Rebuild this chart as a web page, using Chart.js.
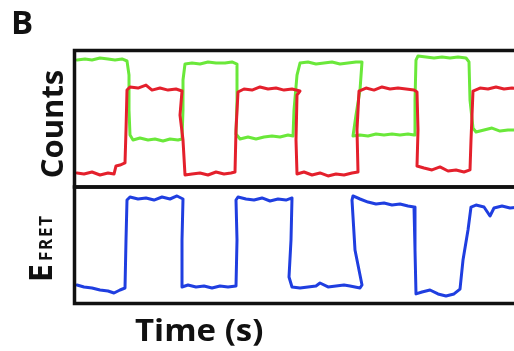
<!DOCTYPE html>
<html>
<head>
<meta charset="utf-8">
<script src="https://cdn.jsdelivr.net/npm/chart.js@4"></script>
<style>
    html, body { margin: 0; padding: 0; background: #fff; }
    body { width: 514px; height: 351px; overflow: hidden; position: relative; font-family: "Open Sans", sans-serif; font-weight: 700; color: #111; }
    canvas { position: absolute; left: 0; top: 0; }
    .lbl { position: absolute; line-height: 1; white-space: nowrap; }
    #panelLetter { left: 11px; top: 5px; font-size: 33px; }
    #countsLabel { left: 50.5px; top: 124px; font-size: 31px; transform: translate(-50%, -50%) rotate(-90deg); }
    #fretLabel { left: 40px; top: 248px; font-size: 32px; transform: translate(-50%, -50%) rotate(-90deg); }
    #fretLabel span { font-size: 17px; line-height: 0; letter-spacing: 1.8px; margin-left: 3px; }
    #timeLabel { left: 135px; top: 315px; font-size: 30px; transform: scaleX(1.1); transform-origin: left top; }
</style>
</head>
<body>
<canvas id="chartCounts" width="540" height="351"></canvas>
<canvas id="chartFret" width="540" height="351"></canvas>
<div class="lbl" id="panelLetter">B</div>
<div class="lbl" id="countsLabel">Counts</div>
<div class="lbl" id="fretLabel">E<span>FRET</span></div>
<div class="lbl" id="timeLabel">Time (s)</div>

<script>
// time (s) of each sample, and the values
var donorTime = [0.25, 1.05, 1.75, 2.55, 3.35, 4.05, 4.75, 5.25, 5.45, 5.45, 5.55, 5.85, 6.55, 7.35, 8.05, 8.85, 9.55, 10.35, 10.75,
    10.85, 10.85, 11.05, 11.75, 12.55, 13.35, 14.15, 15.05, 15.75, 16.25, 16.25, 16.15, 16.55, 17.35, 18.15, 18.95, 19.75, 20.55,
    21.35, 21.85, 21.95, 22.25, 22.55, 23.35, 24.15, 24.95, 25.75, 26.55, 27.35, 28.15, 28.75, 28.55, 28.15, 27.85, 28.55, 29.35,
    30.15, 30.95, 31.75, 32.55, 33.35, 33.95, 34.05, 34.15, 34.35, 35.15, 35.95, 36.75, 37.55, 38.35, 39.15, 39.45, 39.55, 39.85,
    40.15, 40.95, 41.75, 42.55, 43.35, 44.15];
var donorCounts = [93, 93.8, 93, 94.5, 93.8, 93, 93.8, 92.3, 82, 56.4, 38.1, 34.4, 35.9, 34.4, 35.2, 33.7, 35.2, 34.4, 35.2,
    56.4, 78.4, 90.1, 90.8, 90.1, 91.6, 90.8, 90.8, 91.6, 90.1, 63.7, 38.8, 35.2, 36.6, 35.2, 36.6, 37.4, 36.6,
    38.1, 37.4, 56.4, 82, 90.8, 91.6, 90.1, 90.8, 91.6, 90.1, 90.8, 91.6, 91.6, 71, 52.7, 37.4, 38.1, 37.4,
    38.8, 38.1, 38.8, 38.1, 38.8, 38.1, 63.7, 93, 96, 95.2, 94.5, 95.2, 94.5, 95.2, 94.5, 91.6, 63.7, 43.2,
    40.3, 41.8, 43.2, 41, 41.8, 41.8];

var acceptorTime = [0.25, 0.95, 1.75, 2.55, 3.35, 3.95, 4.15, 4.55, 5.05, 5.15, 5.25, 5.55, 6.35, 7.15, 7.75, 8.55, 9.35, 10.15,
    10.75, 10.55, 10.85, 11.05, 11.75, 12.55, 13.35, 14.15, 14.95, 15.65, 16.05, 16.15, 16.35, 16.95, 17.75, 18.55, 19.35, 20.15,
    20.95, 21.75, 22.55, 22.25, 22.15, 22.25, 22.95, 23.75, 24.55, 25.35, 26.15, 26.95, 27.75, 28.35, 28.25, 28.45, 29.15, 29.95,
    30.75, 31.55, 32.35, 33.15, 33.95, 34.25, 34.35, 34.25, 34.95, 35.75, 36.55, 37.35, 38.15, 38.95, 39.55, 39.65, 39.85, 40.55,
    41.35, 42.15, 42.95, 43.75, 44.55];
var acceptorCounts = [10.3, 9.5, 11, 8.8, 10.3, 9.5, 15.4, 16.1, 17.6, 41.8, 71, 73.3, 72.5, 74.7, 71, 72.5, 71, 71.8,
    70.3, 52.7, 34.4, 8.8, 9.5, 10.3, 8.8, 11, 9.5, 10.3, 11, 41.8, 69.6, 71.8, 71, 73.3, 71.8, 72.5,
    71, 71.8, 70.3, 67.4, 34.4, 9.5, 11, 8.8, 10.3, 8.1, 9.5, 8.8, 10.3, 11, 41.8, 70.3, 72.5, 71,
    73.3, 71.8, 72.5, 71.8, 71, 69.6, 41.8, 15.4, 13.9, 12.5, 14.7, 11.7, 12.5, 11, 12.5, 34.4, 70.3, 72.5,
    71.8, 73.3, 71.8, 72.5, 71.8];

var fretTime = [0.25, 0.95, 1.75, 2.55, 3.35, 3.95, 4.55, 5.05, 5.15, 5.25, 5.55, 6.35, 7.15, 7.95, 8.75, 9.55, 10.25, 10.85,
    10.75, 10.75, 11.35, 12.15, 12.95, 13.75, 14.55, 15.35, 16.15, 16.25, 16.15, 16.35, 17.15, 17.95, 18.75, 19.55, 20.35, 21.15,
    21.75, 21.65, 21.45, 21.75, 22.55, 23.35, 24.15, 24.55, 25.35, 26.15, 26.95, 27.55, 28.55, 28.75, 28.05, 27.75, 27.85, 28.55,
    29.35, 30.15, 30.95, 31.75, 32.55, 33.35, 33.95, 34.05, 34.15, 34.75, 35.55, 36.35, 37.15, 37.95, 38.55, 38.85, 39.35, 39.65,
    40.15, 40.95, 41.55, 41.95, 42.75, 43.55, 44.55];
var fretEff = [0.159, 0.142, 0.133, 0.116, 0.107, 0.09, 0.116, 0.133, 0.545, 0.888, 0.914, 0.897, 0.906, 0.888, 0.914, 0.897, 0.923, 0.897,
    0.545, 0.142, 0.159, 0.142, 0.15, 0.133, 0.15, 0.142, 0.15, 0.545, 0.888, 0.914, 0.897, 0.888, 0.906, 0.88, 0.897, 0.888,
    0.906, 0.545, 0.227, 0.142, 0.133, 0.142, 0.15, 0.176, 0.142, 0.15, 0.159, 0.15, 0.133, 0.159, 0.459, 0.888, 0.923, 0.897,
    0.871, 0.854, 0.863, 0.845, 0.854, 0.837, 0.828, 0.459, 0.082, 0.099, 0.116, 0.082, 0.064, 0.082, 0.124, 0.373, 0.631, 0.828,
    0.845, 0.828, 0.751, 0.82, 0.837, 0.82, 0.828];

var timeRange = [0, 45];
var countsRange = [0, 100];
var fretRange = [0, 1];

function toPoints(xs, ys) {
    var pts = [];
    for (var i = 0; i < xs.length; i++) pts.push({ x: xs[i], y: ys[i] });
    return pts;
}

// black frame around each panel
var framePlugin = {
    id: 'frame',
    afterDraw: function (chart) {
        var a = chart.chartArea;
        var ctx = chart.ctx;
        ctx.save();
        ctx.strokeStyle = '#111';
        ctx.lineWidth = 3.5;
        ctx.strokeRect(a.left, a.top, a.right - a.left, a.bottom - a.top);
        ctx.restore();
    }
};

function traceOptions(yRange, pad) {
    return {
        responsive: false,
        animation: false,
        parsing: false,
        layout: { padding: pad },
        plugins: { legend: { display: false }, tooltip: { enabled: false } },
        elements: { point: { radius: 0 }, line: { tension: 0, borderJoinStyle: 'round', borderCapStyle: 'round' } },
        scales: {
            x: { type: 'linear', min: timeRange[0], max: timeRange[1], display: false },
            y: { type: 'linear', min: yRange[0], max: yRange[1], display: false }
        }
    };
}

new Chart(document.getElementById('chartCounts'), {
    type: 'line',
    data: {
        datasets: [
            { label: 'Acceptor', data: toPoints(acceptorTime, acceptorCounts), borderColor: '#e4202c', borderWidth: 3, order: 1 },
            { label: 'Donor', data: toPoints(donorTime, donorCounts), borderColor: '#6ae83a', borderWidth: 3, order: 2 }
        ]
    },
    options: traceOptions(countsRange, { left: 74.5, top: 50.5, right: 15.5, bottom: 164 }),
    plugins: [framePlugin]
});

new Chart(document.getElementById('chartFret'), {
    type: 'line',
    data: {
        datasets: [
            { label: 'EFRET', data: toPoints(fretTime, fretEff), borderColor: '#1f3ee0', borderWidth: 3 }
        ]
    },
    options: traceOptions(fretRange, { left: 74.5, top: 187, right: 15.5, bottom: 47.5 }),
    plugins: [framePlugin]
});
</script>
</body>
</html>
